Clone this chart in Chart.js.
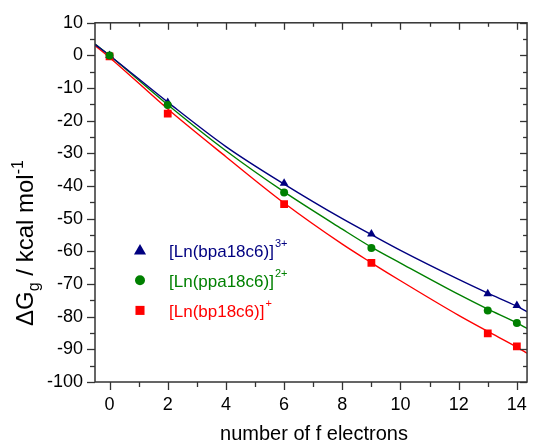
<!DOCTYPE html>
<html><head><meta charset="utf-8">
<script src="https://cdn.jsdelivr.net/npm/chart.js@4.4.0/dist/chart.umd.min.js"></script>
<style>html,body{margin:0;padding:0;background:#fff}#wrap{width:539px;height:442px;position:relative}</style>
</head><body><div id="wrap"><canvas id="c" width="539" height="442"></canvas></div>
<script>
// ---- data ----
const xTicks = [0, 2, 4, 6, 8, 10, 12, 14];
const yTicks = [10, 0, -10, -20, -30, -40, -50, -60, -70, -80, -90, -100];
const fElectrons = [0, 2, 6, 9, 13, 14];
const bpa18c6 = [0, -14.4, -39.1, -54.7, -73.0, -76.6];
const ppa18c6 = [0, -15.2, -42.0, -59.0, -78.1, -81.9];
const bp18c6 = [-0.3, -17.8, -45.5, -63.5, -85.1, -89.1];
const fitX = [-0.5, 0, 2, 4, 6, 8, 9, 10, 12, 13, 14, 14.35];
const fitBpa = [3.4, 0, -14.3, -27.9, -39.4, -50.0, -54.9, -59.7, -68.6, -72.8, -76.8, -78.5];
const fitPpa = [3.5, 0, -15.1, -29.2, -41.8, -53.2, -58.7, -63.6, -73.2, -77.7, -81.9, -83.6];
const fitBp = [3.0, -0.6, -16.4, -31.0, -45.2, -57.8, -63.5, -69.0, -79.6, -84.5, -89.3, -91.2];
const legendNames = ['[Ln(bpa18c6)]', '[Ln(ppa18c6)]', '[Ln(bp18c6)]'];
const legendSups = ['3+', '2+', '+'];
const xTitle = 'number of f electrons';

// ---- styles ----
const BLUE = '#000080', GREEN = '#008000', RED = '#ff0000';
const FONT = "'Liberation Sans', Arial, sans-serif";
const AXIS = '#333333';

const pts = (xs, ys) => xs.map((x, i) => ({x, y: ys[i]}));
const lineDs = (ys, c, order) => ({type: 'line', data: pts(fitX, ys), borderColor: c, borderWidth: 1.4,
  pointRadius: 0, cubicInterpolationMode: 'monotone', fill: false, order});
const markDs = (ys, c, style, r, order) => ({type: 'scatter', data: pts(fElectrons, ys), backgroundColor: c,
  borderColor: c, borderWidth: 0, pointStyle: style, pointRadius: r, showLine: false, order});

const legendStyles = [
  {style: 'triangle', r: 7, c: BLUE},
  {style: 'circle', r: 5, c: GREEN},
  {style: 'rect', r: 6.4, c: RED}
];

const decor = {
  id: 'decor',
  afterDraw(chart) {
    const ctx = chart.ctx, a = chart.chartArea, xs = chart.scales.x, ys = chart.scales.y;
    ctx.save();
    ctx.strokeStyle = AXIS;
    ctx.lineWidth = 1.5;
    ctx.strokeRect(a.left, a.top, a.right - a.left, a.bottom - a.top);
    const tick = (x1, y1, x2, y2) => { ctx.beginPath(); ctx.moveTo(x1, y1); ctx.lineTo(x2, y2); ctx.stroke(); };
    ctx.lineWidth = 1.3;
    // x ticks
    xTicks.forEach((v, i) => {
      const p = Math.round(xs.getPixelForValue(v)) + 0.5;
      tick(p, a.bottom, p, a.bottom + 8);
      tick(p, a.top, p, a.top + 7);
      if (i < xTicks.length - 1) {
        const q = Math.round(xs.getPixelForValue((v + xTicks[i + 1]) / 2)) + 0.5;
        tick(q, a.bottom, q, a.bottom + 5);
        tick(q, a.top, q, a.top + 4);
      }
    });
    yTicks.forEach((v, i) => {
      const p = Math.round(ys.getPixelForValue(v)) + 0.5;
      tick(a.left - 8, p, a.left, p);
      tick(a.right - 7, p, a.right, p);
      if (i < yTicks.length - 1) {
        const q = Math.round(ys.getPixelForValue((v + yTicks[i + 1]) / 2)) + 0.5;
        tick(a.left - 5, q, a.left, q);
        tick(a.right - 4, q, a.right, q);
      }
    });
    // x title
    ctx.fillStyle = '#000';
    ctx.font = '20px ' + FONT;
    ctx.textAlign = 'center';
    ctx.textBaseline = 'alphabetic';
    ctx.fillText(xTitle, (a.left + a.right) / 2 + 3, 440);
    // y title with sub/superscript
    const parts = [
      {t: '\u0394G', s: 24, dy: 0},
      {t: 'g', s: 16, dy: 6},
      {t: ' / kcal mol', s: 24, dy: 0},
      {t: '-1', s: 16, dy: -10}
    ];
    let total = 0;
    parts.forEach(p => { ctx.font = p.s + 'px ' + FONT; p.w = ctx.measureText(p.t).width; total += p.w; });
    ctx.translate(33, 243);
    ctx.rotate(-Math.PI / 2);
    ctx.textAlign = 'left';
    let cx = -total / 2;
    parts.forEach(p => { ctx.font = p.s + 'px ' + FONT; ctx.fillText(p.t, cx, p.dy); cx += p.w; });
    ctx.setTransform(1, 0, 0, 1, 0, 0);
    // legend
    const lx = 140, ly0 = 250, lstep = 30.2, tx = 169;
    legendNames.forEach((name, i) => {
      const st = legendStyles[i];
      const y = ly0 + i * lstep;
      ctx.fillStyle = st.c; ctx.strokeStyle = st.c;
      Chart.helpers.drawPoint(ctx, {pointStyle: st.style, radius: st.r, rotation: 0, borderWidth: 0}, lx, y + (st.style === 'triangle' ? 1 : 0));
      ctx.fillStyle = st.c;
      ctx.font = '17px ' + FONT;
      ctx.textAlign = 'left';
      ctx.textBaseline = 'alphabetic';
      ctx.fillText(name, tx, y + 6.5);
      const w = ctx.measureText(name).width;
      ctx.font = '11px ' + FONT;
      ctx.fillText(legendSups[i], tx + w + 1, y - 3);
    });
    ctx.restore();
  }
};

new Chart(document.getElementById('c'), {
  type: 'scatter',
  data: {
    datasets: [
      markDs(ppa18c6, GREEN, 'circle', 4, 0),
      markDs(bpa18c6, BLUE, 'triangle', 5, 1),
      markDs(bp18c6, RED, 'rect', 5.5, 2),
      lineDs(fitBpa, BLUE, 3),
      lineDs(fitPpa, GREEN, 4),
      lineDs(fitBp, RED, 5)
    ]
  },
  options: {
    responsive: false,
    animation: false,
    devicePixelRatio: 1,
    layout: {padding: {top: 22, right: 5, left: 0, bottom: 0}},
    plugins: {legend: {display: false}, tooltip: {enabled: false}},
    scales: {
      x: {
        type: 'linear', min: -0.5, max: 14.35,
        afterBuildTicks: s => { s.ticks = xTicks.map(v => ({value: v})); },
        afterFit: s => { s.height = 60; },
        grid: {display: false, drawTicks: false},
        border: {display: false},
        ticks: {color: '#000', font: {family: FONT, size: 18}, padding: 12, maxRotation: 0, autoSkip: false}
      },
      y: {
        type: 'linear', min: -100, max: 10,
        afterBuildTicks: s => { s.ticks = yTicks.map(v => ({value: v})); },
        afterFit: s => { s.width = 95; },
        grid: {display: false, drawTicks: false},
        border: {display: false},
        ticks: {color: '#000', font: {family: FONT, size: 18}, padding: 12, autoSkip: false}
      }
    }
  },
  plugins: [decor]
});
</script></body></html>
